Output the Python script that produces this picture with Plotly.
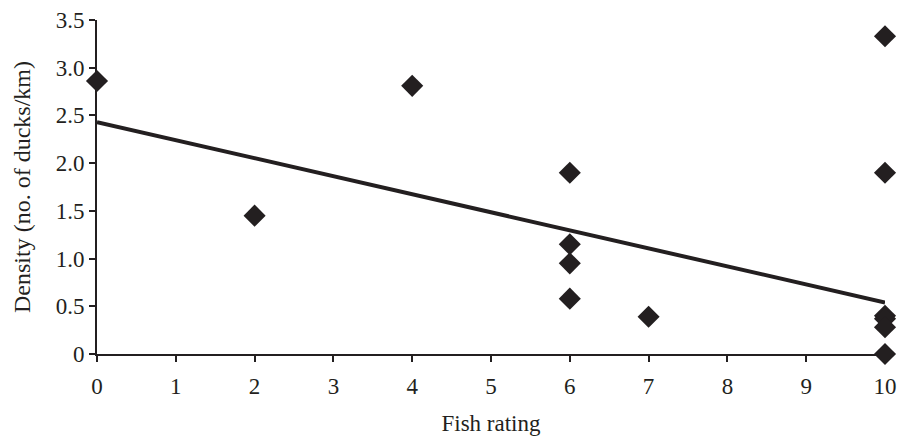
import plotly.graph_objects as go

fish_rating = [0, 2, 4, 6, 6, 6, 6, 7, 10, 10, 10, 10, 10, 10]
density = [2.86, 1.45, 2.81, 1.90, 1.15, 0.95, 0.58, 0.39, 3.33, 1.90, 0.40, 0.37, 0.28, 0.0]
trend_x = [0, 10]
trend_y = [2.43, 0.54]

ink = "#231f20"
fig = go.Figure()
fig.add_trace(go.Scatter(x=trend_x, y=trend_y, mode="lines",
                         line=dict(color=ink, width=4), cliponaxis=False, showlegend=False))
fig.add_trace(go.Scatter(x=fish_rating, y=density, mode="markers",
                         marker=dict(symbol="diamond", size=17, color=ink),
                         cliponaxis=False, showlegend=False))

fam = "Liberation Serif"
fig.update_layout(
    width=899, height=436,
    margin=dict(l=97, r=14, t=20, b=82),
    plot_bgcolor="white", paper_bgcolor="white",
    font=dict(family=fam, size=23, color=ink),
    xaxis=dict(range=[0, 10], tickmode="array", tickvals=list(range(11)),
               automargin=False, ticklabeloverflow="allow",
               showgrid=False, zeroline=False, showline=True, linecolor=ink, linewidth=2,
               ticks="outside", ticklen=6, tickwidth=2, tickcolor=ink, ticklabelstandoff=4,
               tickfont=dict(family=fam, size=23, color=ink),
               title=dict(text="Fish rating", standoff=20, font=dict(family=fam, size=23, color=ink))),
    yaxis=dict(range=[0, 3.5], tickmode="array",
               tickvals=[0, 0.5, 1, 1.5, 2, 2.5, 3, 3.5],
               ticktext=["0", "0.5", "1.0", "1.5", "2.0", "2.5", "3.0", "3.5"],
               automargin=False, ticklabeloverflow="allow",
               showgrid=False, zeroline=False, showline=True, linecolor=ink, linewidth=2,
               ticks="outside", ticklen=6, tickwidth=2, tickcolor=ink,
               tickfont=dict(family=fam, size=23, color=ink),
               title=dict(text="Density (no. of ducks/km)", standoff=18, font=dict(family=fam, size=24, color=ink))),
)
fig.write_html("out.html")
